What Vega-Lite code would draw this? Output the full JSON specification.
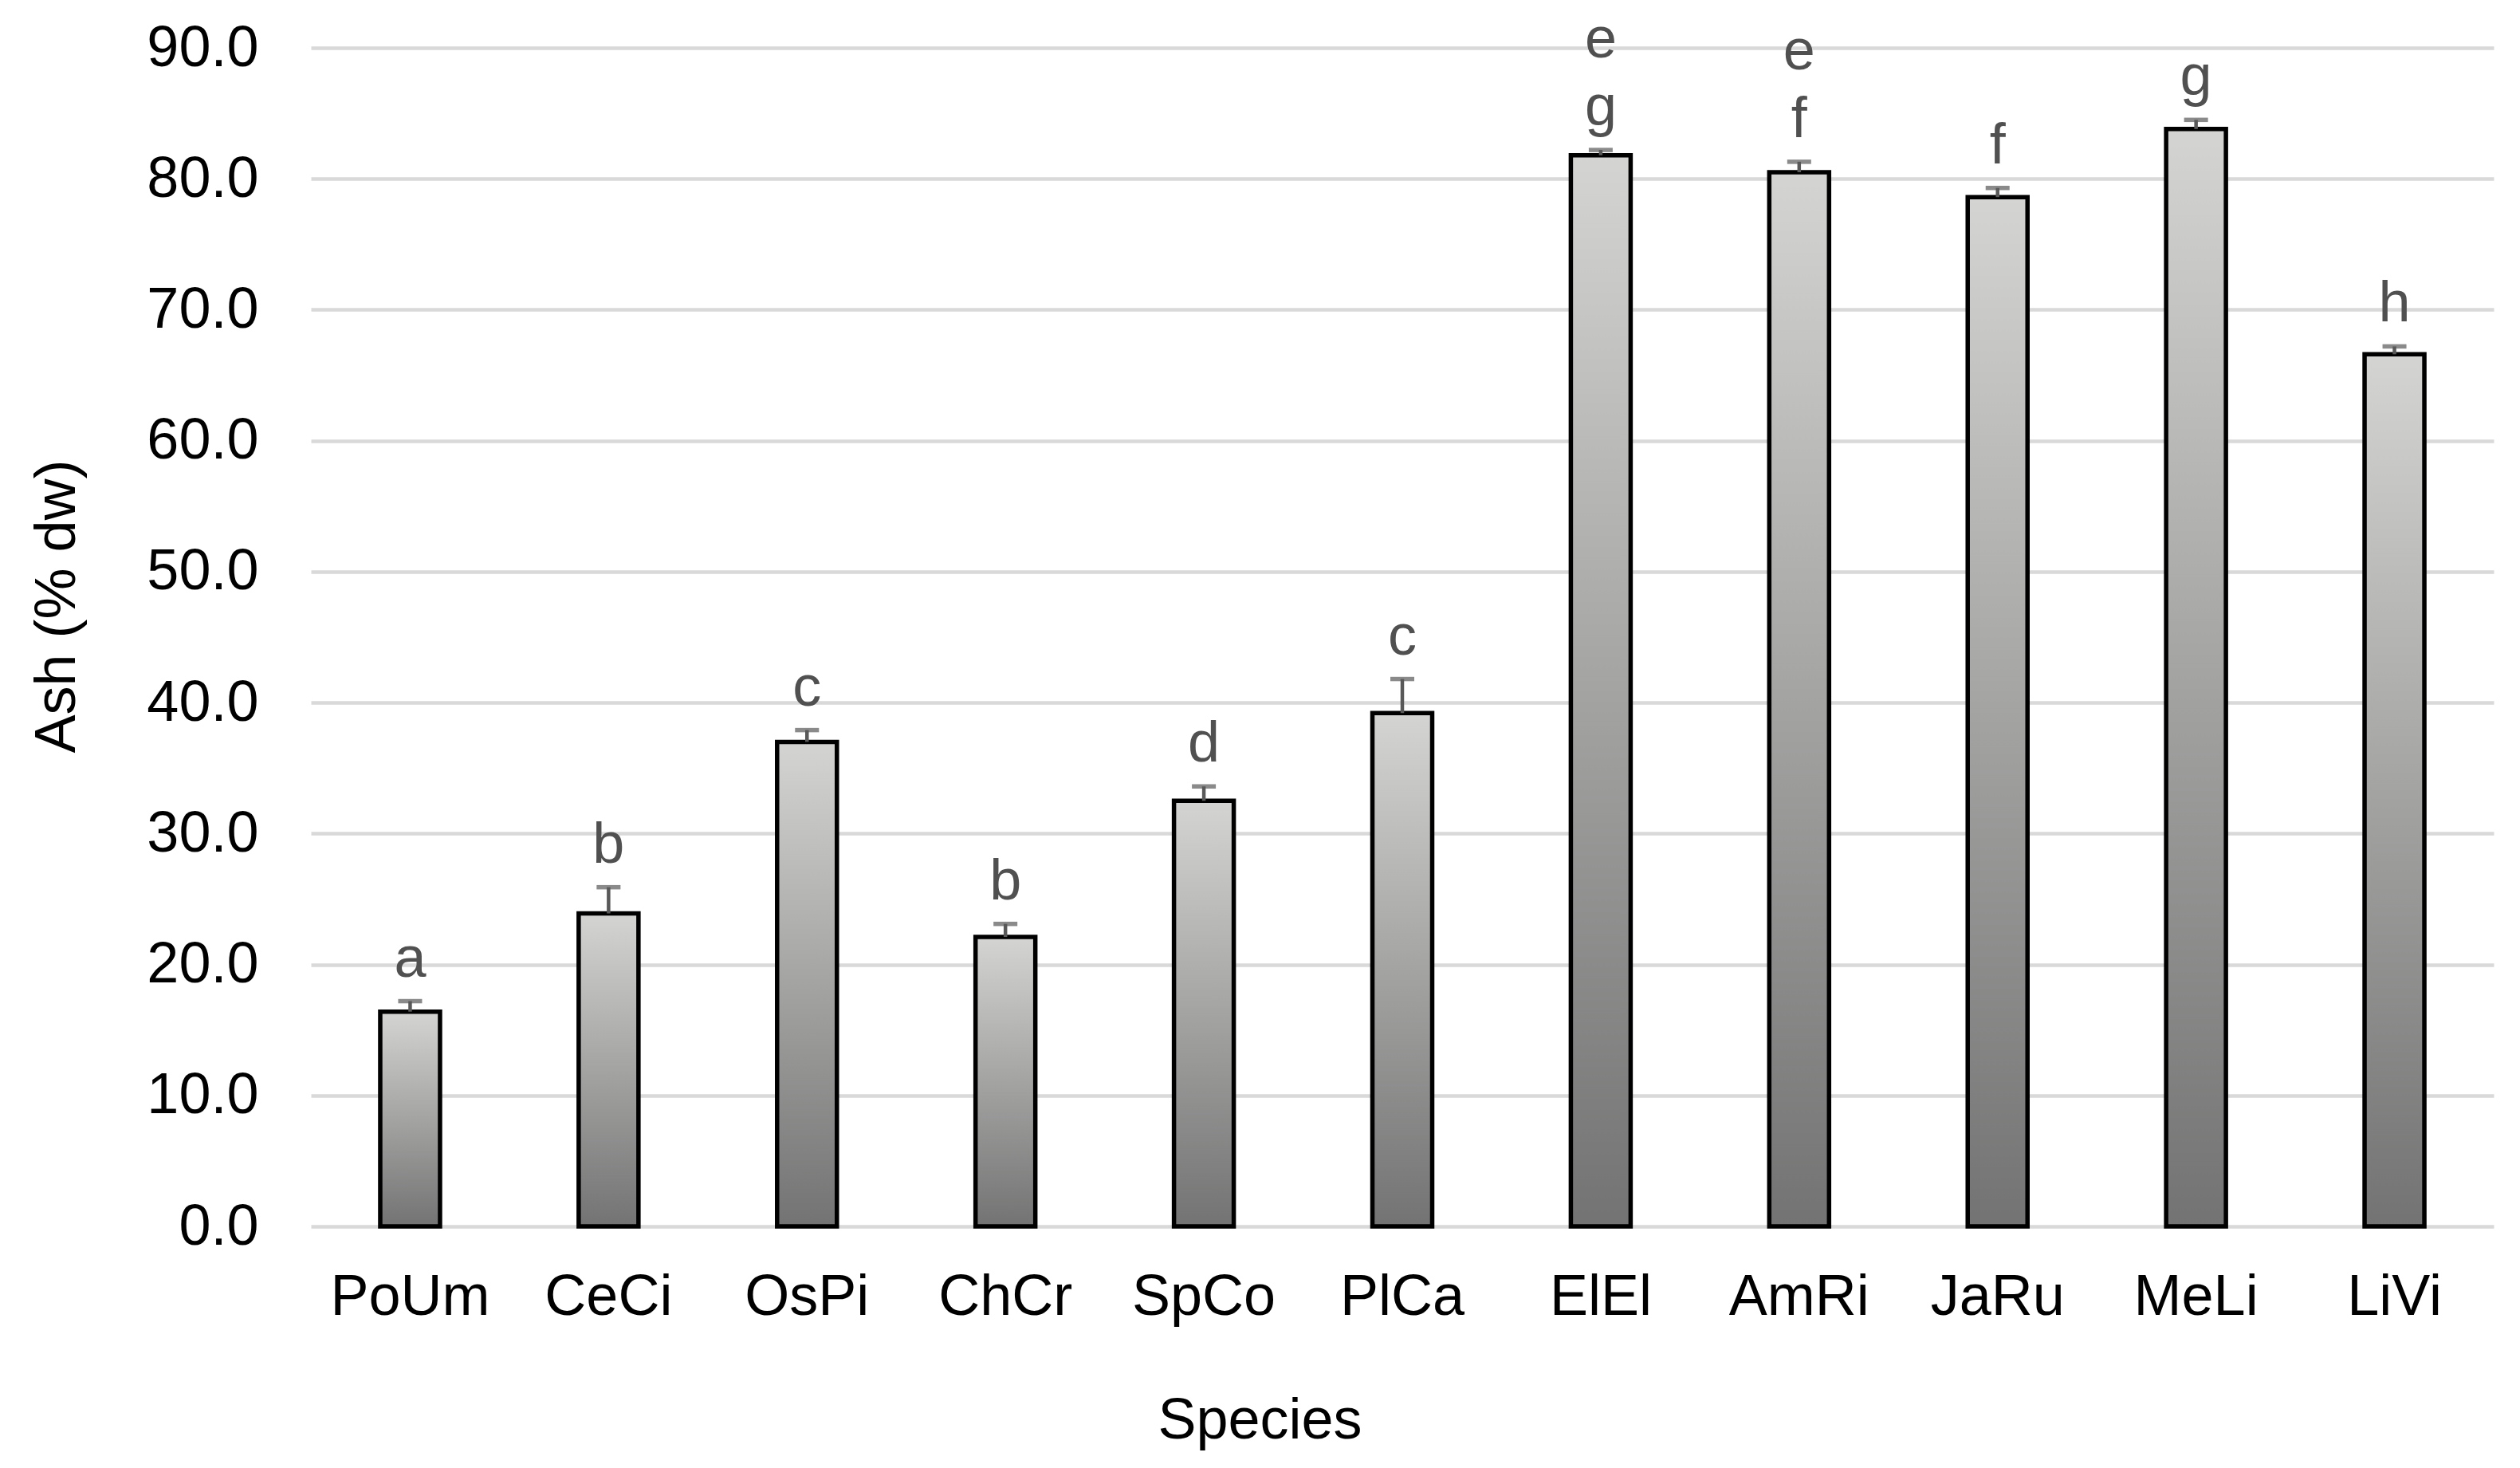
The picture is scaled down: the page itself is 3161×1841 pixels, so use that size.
{
  "$schema": "https://vega.github.io/schema/vega-lite/v6.json",
  "width": 2738,
  "height": 1478,
  "autosize": "none",
  "padding": {"left": 390, "top": 60, "right": 33, "bottom": 303},
  "background": "white",
  "config": {"view": {"stroke": null}, "font": "Liberation Sans"},
  "data": {
    "values": [
      {"species": "PoUm", "ash": 16.4, "upper": 17.2, "letter": "a", "letterTop": ""},
      {"species": "CeCi", "ash": 23.9, "upper": 25.9, "letter": "b", "letterTop": ""},
      {"species": "OsPi", "ash": 37.0, "upper": 37.9, "letter": "c", "letterTop": ""},
      {"species": "ChCr", "ash": 22.1, "upper": 23.1, "letter": "b", "letterTop": ""},
      {"species": "SpCo", "ash": 32.5, "upper": 33.6, "letter": "d", "letterTop": ""},
      {"species": "PlCa", "ash": 39.2, "upper": 41.8, "letter": "c", "letterTop": ""},
      {"species": "ElEl", "ash": 81.8, "upper": 82.2, "letter": "g", "letterTop": "e"},
      {"species": "AmRi", "ash": 80.5, "upper": 81.3, "letter": "f", "letterTop": "e"},
      {"species": "JaRu", "ash": 78.6, "upper": 79.3, "letter": "f", "letterTop": ""},
      {"species": "MeLi", "ash": 83.8, "upper": 84.5, "letter": "g", "letterTop": ""},
      {"species": "LiVi", "ash": 66.6, "upper": 67.2, "letter": "h", "letterTop": ""}
    ]
  },
  "encoding": {
    "x": {
      "field": "species",
      "type": "nominal",
      "sort": null,
      "scale": {"paddingInner": 0.7, "paddingOuter": 0.35},
      "axis": {
        "title": "Species",
        "titleFont": "Liberation Sans",
        "titleFontSize": 72,
        "titleFontWeight": "normal",
        "titleColor": "#000000",
        "titleX": 1190,
        "titleY": 265,
        "titleAlign": "center",
        "titleBaseline": "alphabetic",
        "labelFont": "Liberation Sans",
        "labelFontSize": 72,
        "labelColor": "#000000",
        "labelAngle": 0,
        "labelPadding": 53,
        "labelLimit": 0,
        "labelOverlap": false,
        "ticks": false,
        "domain": false,
        "grid": false
      }
    }
  },
  "layer": [
    {
      "mark": {
        "type": "bar",
        "size": 75,
        "stroke": "#000000",
        "strokeWidth": 5.5,
        "color": {
          "gradient": "linear",
          "x1": 0, "y1": 0, "x2": 0, "y2": 1,
          "stops": [
            {"offset": 0, "color": "#d4d4d2"},
            {"offset": 1, "color": "#737373"}
          ]
        }
      },
      "encoding": {
        "y": {
          "field": "ash",
          "type": "quantitative",
          "scale": {"domain": [0, 90], "nice": false, "zero": true},
          "axis": {
            "title": "Ash (% dw)",
            "titleFont": "Liberation Sans",
            "titleFontSize": 72,
            "titleFontWeight": "normal",
            "titleColor": "#000000",
            "titleAngle": -90,
            "titleX": -297,
            "titleY": 700,
            "titleAlign": "center",
            "titleBaseline": "alphabetic",
            "values": [0, 10, 20, 30, 40, 50, 60, 70, 80, 90],
            "format": ".1f",
            "labelFont": "Liberation Sans",
            "labelFontSize": 72,
            "labelColor": "#000000",
            "labelPadding": 66,
            "ticks": false,
            "domain": false,
            "grid": true,
            "gridColor": "#d9d9d9",
            "gridWidth": 4.5
          }
        }
      }
    },
    {
      "mark": {"type": "rule", "color": "#595959", "strokeWidth": 4.5},
      "encoding": {
        "y": {"field": "ash", "type": "quantitative"},
        "y2": {"field": "upper"}
      }
    },
    {
      "mark": {"type": "tick", "color": "#595959", "size": 30, "thickness": 5.5, "orient": "horizontal"},
      "encoding": {
        "y": {"field": "upper", "type": "quantitative"}
      }
    },
    {
      "mark": {
        "type": "text",
        "font": "Liberation Sans",
        "fontSize": 72,
        "color": "#505050",
        "baseline": "bottom",
        "align": "center",
        "dy": -16
      },
      "encoding": {
        "y": {"field": "upper", "type": "quantitative"},
        "text": {"field": "letter"}
      }
    },
    {
      "mark": {
        "type": "text",
        "font": "Liberation Sans",
        "fontSize": 72,
        "color": "#505050",
        "baseline": "bottom",
        "align": "center",
        "dy": -101
      },
      "encoding": {
        "y": {"field": "upper", "type": "quantitative"},
        "text": {"field": "letterTop"}
      }
    }
  ]
}
